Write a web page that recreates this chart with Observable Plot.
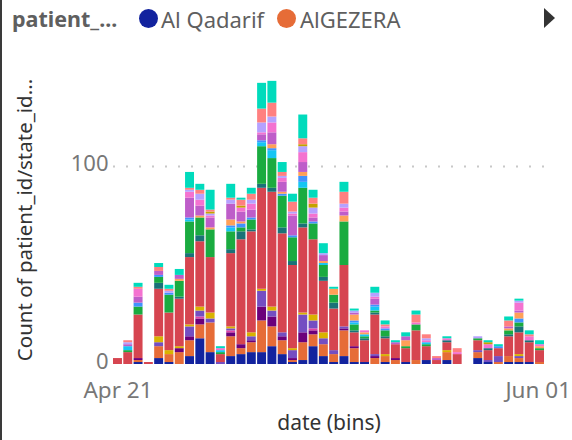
<!DOCTYPE html>
<html><head><meta charset="utf-8">
<script src="https://cdn.jsdelivr.net/npm/d3@7"></script>
<script src="https://cdn.jsdelivr.net/npm/@observablehq/plot@0.6"></script>
<style>
html,body{margin:0;padding:0;background:#fff;}
#wrap{position:relative;width:572px;height:440px;overflow:hidden;font-family:"Segoe UI","Noto Sans",sans-serif;}
#border{position:absolute;left:0;top:0;width:2px;height:440px;background:#3a3a3a;}
#legend{position:absolute;left:0;top:0;width:572px;height:44px;}
#legend .ttl{position:absolute;left:12px;top:4px;font-size:21.5px;font-weight:bold;color:#5f5f5f;}
#legend .dot{position:absolute;top:9px;width:19px;height:19px;border-radius:50%;}
#legend .lab{position:absolute;top:4px;font-size:22px;color:#5f5f5f;}
#legend .arr{position:absolute;left:544px;top:8px;width:0;height:0;border-left:11px solid #333;border-top:10.5px solid transparent;border-bottom:10.5px solid transparent;}
#chart{position:absolute;left:0;top:44px;}
</style></head>
<body><div id="wrap"><div id="legend"></div><div id="chart"></div><div id="border"></div></div>
<script>
const dates = ["04-21","04-22","04-23","04-24","04-25","04-26","04-27","04-28","04-29","04-30",
  "05-01","05-02","05-03","05-04","05-05","05-06","05-07","05-08","05-09","05-10",
  "05-11","05-12","05-13","05-14","05-15","05-16","05-17","05-18","05-19","05-20",
  "05-21","05-22","05-23","05-24","05-25","05-26","05-27","05-28","05-29","05-30",
  "05-31","06-01"];
const xTicks = ["04-21","06-01"];
const xTickLabels = ["Apr 21","Jun 01"];
const yTicks = [0,100];
const states = ["Al Qadarif","AlGEZERA","Blue Nile","Central Darfur","East Darfur","Kassala","Khartoum",
  "North Darfur","North Kordofan","Northern","Red Sea","River Nile","Sennar","South Darfur",
  "South Kordofan","West Darfur","West Kordofan","White Nile"];
const colors = ["#12239E","#E66C37","#6B007B","#E044A7","#744EC2","#D9B300","#D64550",
  "#197278","#1AAB40","#15C6F4","#4092FF","#FFA058","#BE5DC9","#F472D0",
  "#B5A1FF","#C4A200","#FF8080","#00DBBC"];

const alQadarif     = [0,0,1,0,3,1,0,4,13,6, 0,4,5,6,6,9,5,1,2,9, 4,1,4,1,1,0,1,0,1,0, 2,0,2,0,0,3,1,0,1,1, 1,0];
const alGezera      = [0,0,1,0,6,4,6,8,7,15, 0,10,3,5,16,10,7,1,9,6, 6,4,13,7,0,3,3,2,0,2, 0,0,4,0,0,3,0,1,3,2, 0,1];
const blueNile      = [0,0,1,0,0,0,2,2,3,0, 0,2,2,1,7,5,2,1,5,2, 0,0,1,1,0,1,0,1,0,0, 0,0,0,0,0,0,0,0,0,0, 0,0];
const centralDarfur = [0,0,0,0,0,0,0,0,1,0, 0,1,0,0,0,0,0,0,0,1, 0,0,0,0,0,0,0,0,0,0, 0,0,0,0,0,0,0,0,0,0, 0,0];
const eastDarfur    = [0,0,0,0,2,0,0,5,3,2, 1,1,0,2,8,3,2,4,9,4, 3,2,1,0,0,1,0,0,0,0, 0,0,0,0,0,1,1,3,0,1, 0,0];
const kassala       = [0,0,0,0,3,2,1,1,2,3, 0,1,0,2,1,2,0,1,1,3, 3,0,0,0,0,0,1,0,0,0, 0,0,1,0,0,0,0,0,0,1, 0,0];
const khartoum      = [3,6,22,1,24,19,24,34,33,28, 4,37,53,51,51,58,50,42,43,38, 26,21,31,7,11,20,8,7,7,15, 7,2,4,5,0,5,5,4,10,11, 10,6];
const northDarfur   = [0,0,0,0,3,0,1,2,3,0, 0,2,4,1,2,2,3,2,2,0, 2,3,0,1,1,1,1,0,0,0, 0,0,1,0,0,0,1,0,1,3, 1,0];
const northKordofan = [0,1,4,0,3,9,8,16,9,14, 1,9,2,5,19,15,16,12,18,8, 6,4,22,3,1,1,3,0,1,3, 1,0,0,0,0,1,0,0,2,2, 0,1];
const northern      = [0,2,0,0,0,0,0,1,0,0, 1,2,0,0,2,4,0,0,3,0, 1,0,0,1,1,2,0,0,0,0, 1,0,0,0,0,0,0,0,0,0, 0,0];
const redSea        = [0,0,2,0,1,1,0,1,0,0, 0,1,2,1,1,1,1,1,3,1, 0,0,0,1,0,1,1,0,0,0, 0,0,0,0,0,0,0,1,0,2, 0,0];
const riverNile     = [0,0,0,0,0,0,1,0,1,1, 0,3,1,0,0,2,1,0,2,0, 1,3,3,3,1,0,0,0,3,0, 0,0,0,0,0,0,0,0,1,3, 0,1];
const sennar        = [0,1,3,0,2,0,2,10,5,5, 0,8,5,4,3,6,5,10,5,2, 3,0,2,1,0,3,0,1,2,0, 0,1,0,0,0,0,0,0,1,1, 0,0];
const southDarfur   = [0,0,4,0,0,0,0,3,3,1, 1,0,2,3,1,5,2,1,5,2, 0,0,2,0,1,1,1,0,0,1, 1,0,1,1,0,0,2,0,0,4, 2,1];
const southKordofan = [0,1,0,0,0,1,0,1,3,1, 0,2,0,2,5,3,1,1,3,3, 1,0,2,1,0,2,0,0,0,0, 1,0,0,0,0,1,0,0,0,1, 0,0];
const westDarfur    = [0,0,0,0,0,0,0,0,0,1, 0,0,1,0,0,0,0,0,1,2, 0,0,0,0,0,0,0,0,0,0, 0,0,0,0,0,0,1,0,0,0, 0,0];
const westKordofan  = [0,1,1,0,2,1,0,1,2,1, 0,1,3,3,7,7,2,5,3,3, 0,0,6,0,0,0,1,0,0,4, 2,1,0,2,0,0,0,0,3,0, 1,0];
const whiteNile     = [0,0,2,0,2,2,3,8,3,10, 1,7,1,3,13,11,5,4,12,4, 5,1,5,1,0,3,2,1,2,2, 0,0,1,0,0,0,1,1,2,1, 2,2];

const series = [alQadarif,alGezera,blueNile,centralDarfur,eastDarfur,kassala,khartoum,northDarfur,
  northKordofan,northern,redSea,riverNile,sennar,southDarfur,southKordofan,westDarfur,westKordofan,whiteNile];

const rows = [];
states.forEach((s, i) => series[i].forEach((v, j) => { if (v > 0) rows.push({date: dates[j], state: s, count: v}); }));

// legend
const leg = document.getElementById("legend");
leg.innerHTML = `<span class="ttl">patient_...</span>
<span class="dot" style="left:139px;background:${colors[0]}"></span><span class="lab" style="left:161px">${states[0]}</span>
<span class="dot" style="left:277px;background:${colors[1]}"></span><span class="lab" style="left:300px">${states[1]}</span>
<span class="arr"></span>`;

const tickFmt = d => xTickLabels[xTicks.indexOf(d)];
const chart = Plot.plot({
  width: 572,
  height: 396,
  marginLeft: 113,
  marginRight: 28,
  marginTop: 23,
  marginBottom: 76,
  style: {fontFamily: '"Segoe UI","Noto Sans",sans-serif', background: "#fff", overflow: "visible"},
  x: {type: "band", domain: dates, paddingInner: 0.13, paddingOuter: 0, round: false},
  y: {domain: [0, 150]},
  color: {domain: states, range: colors},
  marks: [
    Plot.ruleY([100], {stroke: "#c8c8c8", strokeWidth: 2, strokeDasharray: "2,11"}),
    Plot.barY(rows, {x: "date", y: "count", fill: "state"}),
    Plot.axisX({ticks: xTicks.slice(0, 1), tickFormat: tickFmt, tickSize: 0, tickPadding: 18, fontSize: 22.5, fill: "#777", label: null}),
    Plot.axisX({ticks: xTicks.slice(1), tickFormat: tickFmt, tickSize: 0, tickPadding: 18, fontSize: 22.5, fill: "#777", textAnchor: "end", dx: 31, label: null}),
    Plot.axisY({ticks: yTicks, tickSize: 0, tickPadding: 5, fontSize: 22, fill: "#777", dy: -3, label: null}),
    Plot.text(["Count of patient_id/state_id..."], {frameAnchor: "left", dx: -88, dy: 4, rotate: -90, fontSize: 20.5, fill: "#333", textAnchor: "middle"}),
    Plot.text(["date (bins)"], {frameAnchor: "bottom", dy: 65, fontSize: 21, fill: "#333", textAnchor: "middle"})
  ]
});
document.getElementById("chart").appendChild(chart);
</script></body></html>
